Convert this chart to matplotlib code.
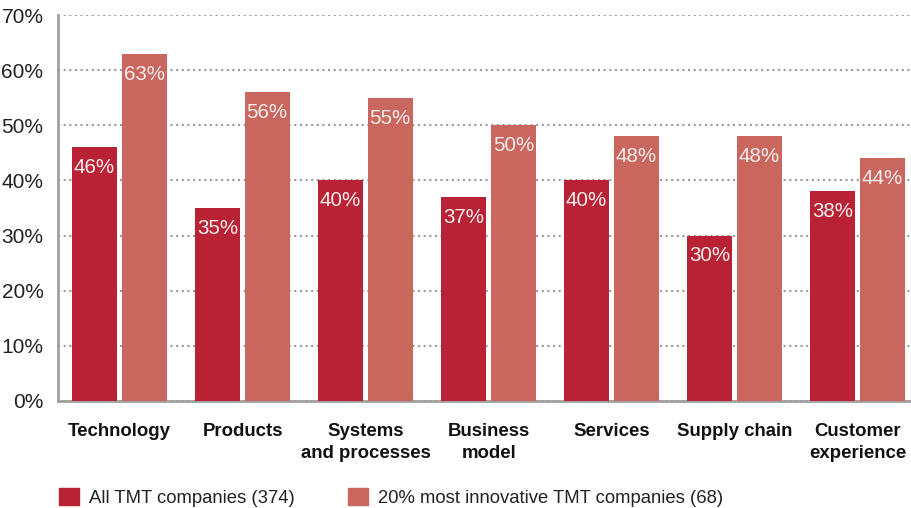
#!/usr/bin/env python3

import matplotlib.pyplot as plt
from matplotlib.patches import Patch
import numpy as np

categories = ["Technology", "Products", "Systems\nand processes", "Business\nmodel",
              "Services", "Supply chain", "Customer\nexperience"]
all_tmt = [46, 35, 40, 37, 40, 30, 38]
top_innovative = [63, 56, 55, 50, 48, 48, 44]
series_labels = ["All TMT companies (374)", "20% most innovative TMT companies (68)"]
y_ticks = [0, 10, 20, 30, 40, 50, 60, 70]

plt.rcParams.update({
    "font.family": ["Liberation Sans", "DejaVu Sans"],
})

fig = plt.figure(figsize=(9.12, 5.08), dpi=100)
ax = fig.add_axes([58 / 912, (508 - 401) / 508, (912 - 58) / 912, (401 - 15) / 508])

x = np.arange(len(categories))
width = 0.366
dark = "#b82234"
light = "#c9665e"

ax.bar(x - 0.205, all_tmt, width, color=dark, zorder=3)
ax.bar(x + 0.2, top_innovative, width, color=light, zorder=3)

# value labels inside the bars
for i in range(len(categories)):
    ax.text(x[i] - 0.205, all_tmt[i] - 3.7, f"{all_tmt[i]}%", ha="center", va="center",
            color="#f8eeee", fontsize=14.8, zorder=4)
    ax.text(x[i] + 0.2, top_innovative[i] - 3.7, f"{top_innovative[i]}%", ha="center", va="center",
            color="#f8eeee", fontsize=14.8, zorder=4)

ax.set_xlim(-0.5, 6.44)
ax.set_ylim(0, 70)
ax.set_yticks(y_ticks)
ax.set_yticklabels([f"{t}%" for t in y_ticks], fontsize=15, color="#222222")
ax.set_xticks(x)
ax.set_xticklabels(categories, fontsize=13.4, fontweight="bold", color="#111111",
                   linespacing=1.4, va="top")
ax.tick_params(axis="x", length=0, pad=16)
ax.tick_params(axis="y", length=0, pad=10.5)

# dotted gridlines
ax.grid(axis="y", linestyle=(0, (1, 1.7)), color="#9a9a9a", linewidth=1.5, zorder=0)
ax.set_axisbelow(True)

for side in ["top", "right"]:
    ax.spines[side].set_visible(False)
for side in ["left", "bottom"]:
    ax.spines[side].set_color("#a0a0a0")
    ax.spines[side].set_linewidth(2)

handles = [Patch(color=dark), Patch(color=light)]
fig.legend(handles, series_labels, loc="lower left", bbox_to_anchor=(42 / 912, -0.03),
           ncol=2, frameon=False, fontsize=13.3, handlelength=1.08, handleheight=1.08,
           handletextpad=0.54, columnspacing=2.92, labelcolor="#222222")

plt.savefig("out.png", dpi=100)
